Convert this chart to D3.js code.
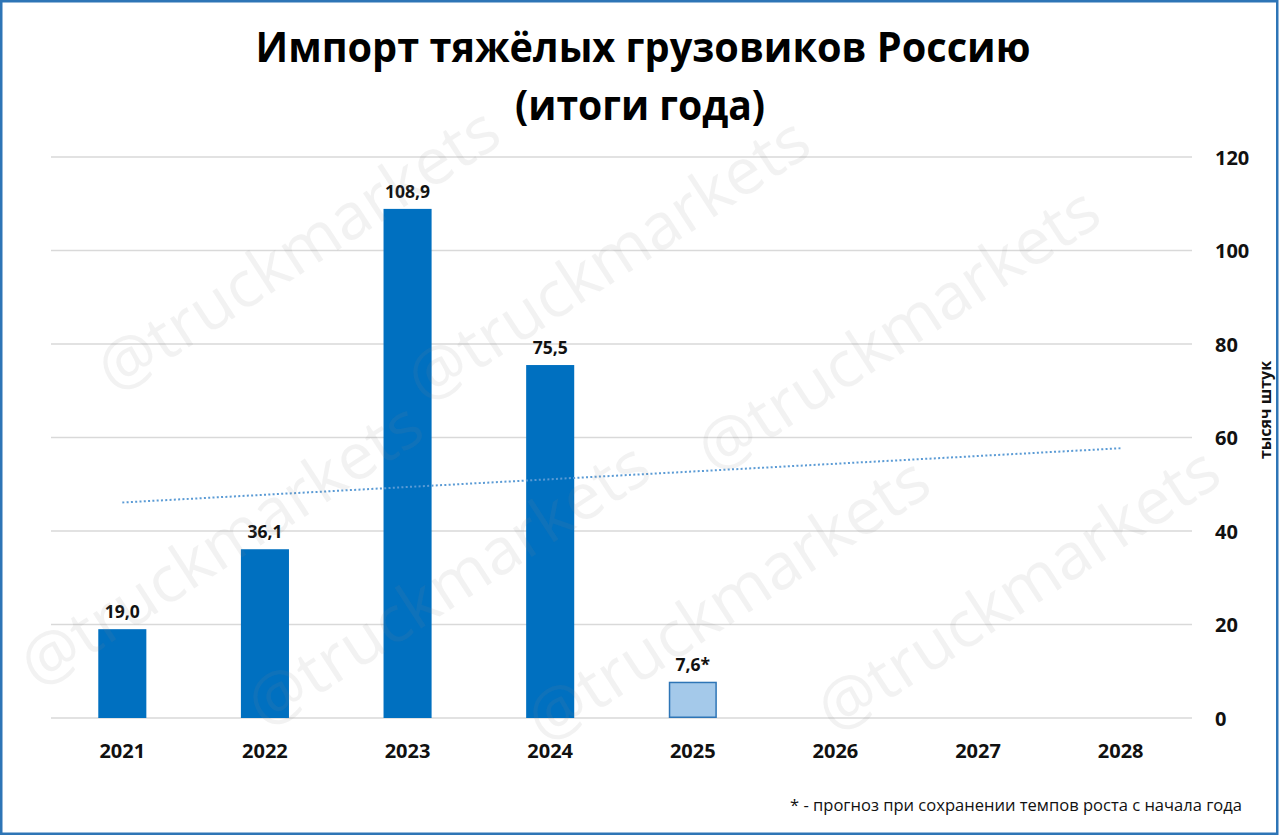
<!DOCTYPE html>
<html>
<head>
<meta charset="utf-8">
<script src="https://cdn.jsdelivr.net/npm/d3@7/dist/d3.min.js"></script>
<style>
  html, body { margin: 0; padding: 0; background: #fff; }
  svg { display: block; }
  text { font-family: "Open Sans", "Noto Sans", sans-serif; }
</style>
</head>
<body>
<svg id="chart" width="1280" height="836"></svg>
<script>
// ---------------- data ----------------
const years = ["2021", "2022", "2023", "2024", "2025", "2026", "2027", "2028"];
const importValues = [19.0, 36.1, 108.9, 75.5, 7.6];
const valueLabels = ["19,0", "36,1", "108,9", "75,5", "7,6*"];
const isForecast = [false, false, false, false, true];
const yTickValues = [0, 20, 40, 60, 80, 100, 120];
const trendYears = ["2021", "2028"];
const trendValues = [46.1, 57.7];
const titleLines = ["Импорт тяжёлых грузовиков Россию", "(итоги года)"];
const axisTitle = "тысяч штук";
const footnote = "* - прогноз при сохранении темпов роста с начала года";
const watermarkText = "@truckmarkets";
const watermarkStarts = [
  [115, 395], [425, 405], [715, 475],
  [38, 690], [265, 730], [545, 745], [835, 735]
];

// ---------------- layout ----------------
const W = 1280, H = 836;
const plot = { left: 51, right: 1192, top: 157, bottom: 718 };
const svg = d3.select("#chart");

const x = d3.scaleBand()
  .domain(years)
  .range([plot.left, plot.right])
  .paddingInner(0.663)
  .paddingOuter(0.3315);

const y = d3.scaleLinear()
  .domain([0, 120])
  .range([plot.bottom, plot.top]);

svg.append("rect").attr("width", W).attr("height", H).attr("fill", "#fff");

// gridlines
svg.append("g")
  .selectAll("line")
  .data(yTickValues)
  .join("line")
  .attr("x1", plot.left).attr("x2", plot.right)
  .attr("y1", d => y(d)).attr("y2", d => y(d))
  .attr("stroke", "#d9d9d9")
  .attr("stroke-width", 1.5);

// bars
const barData = importValues.map((v, i) => ({ year: years[i], value: v, label: valueLabels[i], forecast: isForecast[i] }));
svg.append("g")
  .selectAll("rect")
  .data(barData)
  .join("rect")
  .attr("x", d => x(d.year) + (d.forecast ? 0.75 : 0))
  .attr("width", d => x.bandwidth() - (d.forecast ? 1.5 : 0))
  .attr("y", d => y(d.value))
  .attr("height", d => y(0) - y(d.value) - (d.forecast ? 0.75 : 0))
  .attr("fill", d => d.forecast ? "#a4c9ea" : "#0070c0")
  .attr("stroke", d => d.forecast ? "#2e75b6" : "none")
  .attr("stroke-width", 1.5);

// data labels
svg.append("g")
  .selectAll("text")
  .data(barData)
  .join("text")
  .attr("x", d => x(d.year) + x.bandwidth() / 2)
  .attr("y", d => y(d.value) - 11)
  .attr("text-anchor", "middle")
  .attr("font-size", 17.5)
  .attr("font-weight", 700)
  .attr("fill", "#111")
  .text(d => d.label);

// trendline
const trendLine = d3.line()
  .x(d => x(d.year) + x.bandwidth() / 2)
  .y(d => y(d.value));
svg.append("path")
  .datum(trendYears.map((yr, i) => ({ year: yr, value: trendValues[i] })))
  .attr("d", trendLine)
  .attr("fill", "none")
  .attr("stroke", "#5b9bd5")
  .attr("stroke-width", 2)
  .attr("stroke-dasharray", "2,2.3");

// x axis
const xAxis = d3.axisBottom(x).tickSize(0).tickPadding(0);
const gx = svg.append("g").attr("transform", `translate(0,${plot.bottom})`).call(xAxis);
gx.select(".domain").remove();
gx.selectAll("text")
  .attr("dy", null)
  .attr("y", 40)
  .attr("font-family", "Open Sans")
  .attr("font-size", 20)
  .attr("font-weight", 700)
  .attr("fill", "#111");

// y axis (right)
const yAxis = d3.axisRight(y).tickValues(yTickValues).tickSize(0).tickPadding(0).tickFormat(d3.format("d"));
const gy = svg.append("g").attr("transform", `translate(1215,0)`).call(yAxis);
gy.select(".domain").remove();
gy.selectAll("text")
  .attr("x", 0)
  .attr("dy", "0.36em")
  .attr("text-anchor", "start")
  .attr("font-family", "Open Sans")
  .attr("font-size", 20)
  .attr("font-weight", 700)
  .attr("fill", "#111");

// y axis title
svg.append("text")
  .attr("transform", `translate(1271,410) rotate(-90)`)
  .attr("text-anchor", "middle")
  .attr("font-size", 16)
  .attr("font-weight", 700)
  .attr("fill", "#111")
  .text(axisTitle);

// title
svg.append("text")
  .attr("x", 643).attr("y", 62)
  .attr("text-anchor", "middle")
  .attr("font-size", 41)
  .attr("font-weight", 700)
  .attr("fill", "#000")
  .attr("textLength", 775)
  .attr("lengthAdjust", "spacingAndGlyphs")
  .text(titleLines[0]);
svg.append("text")
  .attr("x", 640).attr("y", 120)
  .attr("text-anchor", "middle")
  .attr("font-size", 41)
  .attr("font-weight", 700)
  .attr("fill", "#000")
  .attr("textLength", 250)
  .attr("lengthAdjust", "spacingAndGlyphs")
  .text(titleLines[1]);

// footnote
svg.append("text")
  .attr("x", 1242).attr("y", 811)
  .attr("text-anchor", "end")
  .attr("font-size", 17)
  .attr("fill", "#111")
  .attr("textLength", 452)
  .attr("lengthAdjust", "spacingAndGlyphs")
  .text(footnote);

// watermarks
svg.append("g")
  .attr("pointer-events", "none")
  .selectAll("text")
  .data(watermarkStarts)
  .join("text")
  .attr("transform", d => `translate(${d[0]},${d[1]}) rotate(-33)`)
  .attr("font-size", 64)
  .attr("textLength", 465)
  .attr("lengthAdjust", "spacingAndGlyphs")
  .attr("fill", "#8c8c8c")
  .attr("fill-opacity", 0.11)
  .text(watermarkText);

// frame
svg.append("rect")
  .attr("x", 1.25).attr("y", 1.25)
  .attr("width", W - 4).attr("height", H - 3.5)
  .attr("fill", "none")
  .attr("stroke", "#2e75b6")
  .attr("stroke-width", 2.5);
</script>
</body>
</html>
